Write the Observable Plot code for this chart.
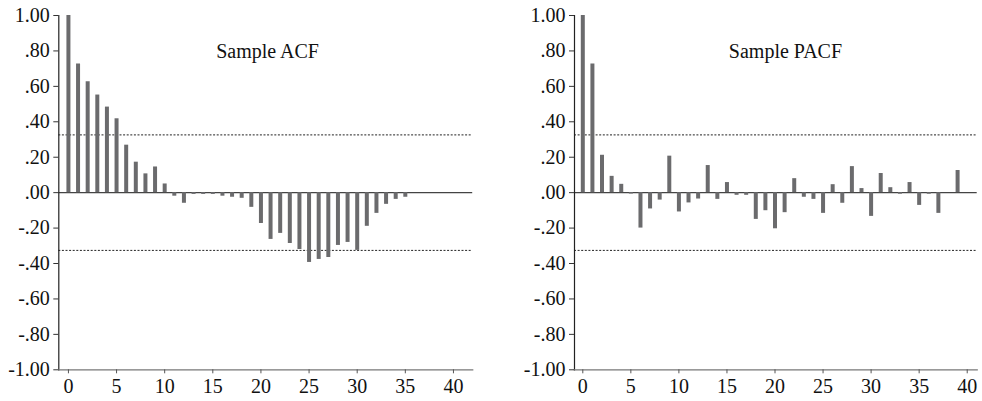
<!DOCTYPE html>
<html>
<head>
<meta charset="utf-8">
<script src="https://cdn.jsdelivr.net/npm/d3@7"></script>
<script src="https://cdn.jsdelivr.net/npm/@observablehq/plot@0.6"></script>
<style>
  html, body { margin: 0; padding: 0; background: #fff; }
  #wrap { display: flex; width: 982px; height: 401px; }
  #wrap svg { overflow: visible; }
  #wrap svg text { font-family: "Liberation Serif", "Times New Roman", serif; }
</style>
</head>
<body>
<div id="wrap"><div id="left"></div><div id="right"></div></div>
<script>
// ---- data ----
const acfTitle = "Sample ACF";
const pacfTitle = "Sample PACF";
const acfValues = [1.00, 0.726, 0.626, 0.551, 0.483, 0.417, 0.268, 0.172, 0.106, 0.145, 0.049,
  -0.02, -0.06, -0.01, -0.01, -0.01, -0.02, -0.026, -0.032, -0.083, -0.174,
  -0.264, -0.23, -0.287, -0.321, -0.394, -0.377, -0.366, -0.298, -0.281, -0.326,
  -0.19, -0.117, -0.066, -0.038, -0.026];
const pacfValues = [1.00, 0.726, 0.211, 0.092, 0.047, -0.008, -0.2, -0.092, -0.042, 0.206, -0.109,
  -0.058, -0.036, 0.153, -0.038, 0.057, -0.015, -0.015, -0.151, -0.102, -0.204,
  -0.113, 0.079, -0.026, -0.038, -0.117, 0.045, -0.06, 0.147, 0.023, -0.134,
  0.108, 0.028, -0.009, 0.057, -0.072, -0.009, -0.117, 0, 0.125];
const confBound = 0.326;
const yTicks = [1, 0.8, 0.6, 0.4, 0.2, 0, -0.2, -0.4, -0.6, -0.8, -1];
const xTicks = [0, 5, 10, 15, 20, 25, 30, 35, 40];

// ---- helpers ----
const serif = "'Liberation Serif', 'Times New Roman', serif";
function fmt(d) {
  let s = Math.abs(d).toFixed(2);
  if (Math.abs(d) < 1) s = s.replace(/^0/, "");
  return (d < -1e-9 ? "-" : "") + s;
}

function panel(values, title, opts) {
  const data = values.map((v, i) => ({lag: i, v}));
  return Plot.plot({
    width: 491,
    height: 401,
    marginLeft: opts.marginLeft,
    marginRight: opts.marginRight,
    marginTop: 15,
    marginBottom: 31.7,
    style: {fontFamily: serif, fontSize: "20px", color: "#000", background: "#fff"},
    x: {domain: opts.xDomain, label: null},
    y: {domain: [-1, 1], label: null},
    marks: [
      Plot.ruleY([confBound, -confBound], {stroke: "#222", strokeWidth: 1, strokeDasharray: "2,1.6"}),
      Plot.ruleY([0], {stroke: "#444", strokeWidth: 1.3}),
      Plot.ruleX(data, {x: "lag", y1: 0, y2: "v", stroke: "#6b6b6d", strokeWidth: 4}),
      Plot.frame({anchor: "left", stroke: "#222", strokeWidth: 1.2}),
      Plot.frame({anchor: "bottom", stroke: "#777", strokeWidth: 1.3}),
      Plot.axisY({ticks: yTicks, tickFormat: fmt, tickSize: 5, tickPadding: 4, stroke: "#333", fill: "#111", label: null, fontFamily: serif, fontVariant: "normal"}),
      Plot.axisX({ticks: xTicks, tickFormat: d => String(d), tickSize: 4, tickPadding: 5, stroke: "#555", fill: "#111", label: null, fontFamily: serif, fontVariant: "normal"}),
      Plot.text([title], {frameAnchor: "top", dx: opts.titleDx, dy: 28, fill: "#111", fontSize: 20, fontFamily: serif})
    ]
  });
}

document.getElementById("left").append(panel(acfValues, acfTitle, {
  marginLeft: 58.3, marginRight: 18.8, xDomain: [-1, 42], titleDx: 1.8
}));
document.getElementById("right").append(panel(pacfValues, pacfTitle, {
  marginLeft: 83, marginRight: 5.3, xDomain: [-0.864, 41.04], titleDx: 9.6
}));
</script>
</body>
</html>
